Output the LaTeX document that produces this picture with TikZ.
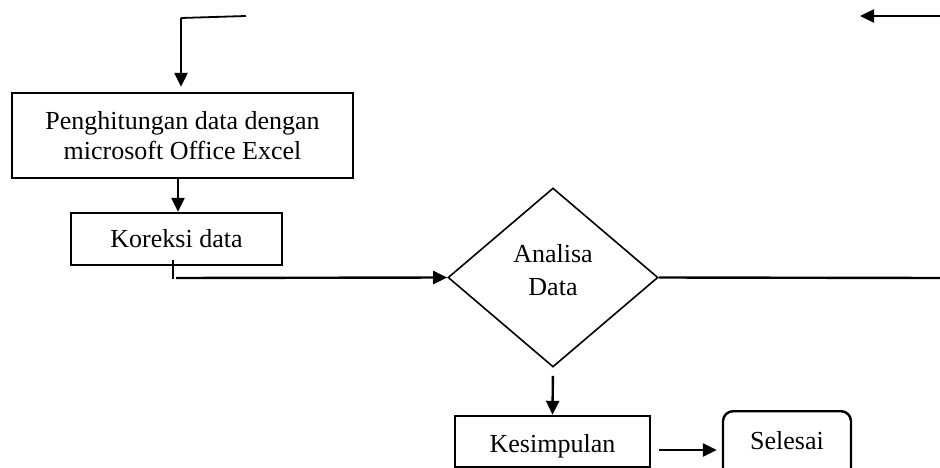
\documentclass[tikz,border=0pt]{standalone}
\usepackage{fontspec}
\setmainfont{Liberation Serif}
\usetikzlibrary{shapes.geometric,arrows.meta}
\begin{document}
\begin{tikzpicture}[x=1pt,y=-1pt,
  every node/.style={font=\fontsize{26}{30}\selectfont, inner sep=0pt},
  procbox/.style={draw, line width=2.4pt, rectangle, align=center},
  onetext/.style={text height=17pt, text depth=1pt},
  decision/.style={draw, line width=1.6pt, diamond, align=center, font=\fontsize{26}{33}\selectfont},
  termbox/.style={draw, line width=2.4pt, rectangle, rounded corners=10pt},
  conn/.style={line width=2.4pt},
  arr/.style={line width=2.4pt, -{Triangle[width=13pt,length=14pt]}}
]
\useasboundingbox (0,0) rectangle (940,468);
\clip (0,0) rectangle (940,468);
\fill[white] (0,0) rectangle (940,468);

% nodes
\node[procbox, minimum width=341pt, minimum height=85pt] (big) at (182.5,135.5)
  {Penghitungan data dengan\\microsoft Office Excel};
\node[procbox, onetext, minimum width=211pt, minimum height=52pt] (kor) at (176.5,239) {Koreksi data};
\node[decision, minimum width=210pt, minimum height=179pt, text height=51pt, text depth=16pt] (dia) at (553,277.5) {Analisa\\Data};
\node[procbox, text height=21pt, text depth=0pt, minimum width=195pt, minimum height=51pt] (kes) at (552.5,441.5) {Kesimpulan};
\node[termbox, text height=17pt, text depth=21pt, minimum width=128pt, minimum height=80pt, anchor=north] (sel) at (787,410) {Selesai};

% free-end coordinates
\coordinate (tl1) at (246,16);
\coordinate (tl2) at (181,18);
\coordinate (tr1) at (940,16);
\coordinate (tr2) at (860,16);
\coordinate (k1) at (173,260);
\coordinate (k2) at (173,279);
\coordinate (k3) at (176,278);
\coordinate (rEnd) at (940,278);

% connectors
\draw[line width=1.8pt] (tl1) -- (tl2);
\draw[arr, shorten >=5pt] (tl2) -- (tl2 |- big.north);
\draw[arr] (tr1) -- (tr2);
\draw[arr] (big.south -| 178,0) -- (kor.north -| 178,0);
\draw[line width=1.8pt] (k1) -- (k2);
\draw[arr] (k3) -- (dia.west);
\draw[conn] (dia.east) -- (rEnd);
\draw[arr, shorten <=8pt] (dia.south) -- (kes.north);
\draw[arr, shorten <=8pt, shorten >=5pt] (kes.east |- 0,450) -- (sel.west |- 0,450);
\end{tikzpicture}
\end{document}
